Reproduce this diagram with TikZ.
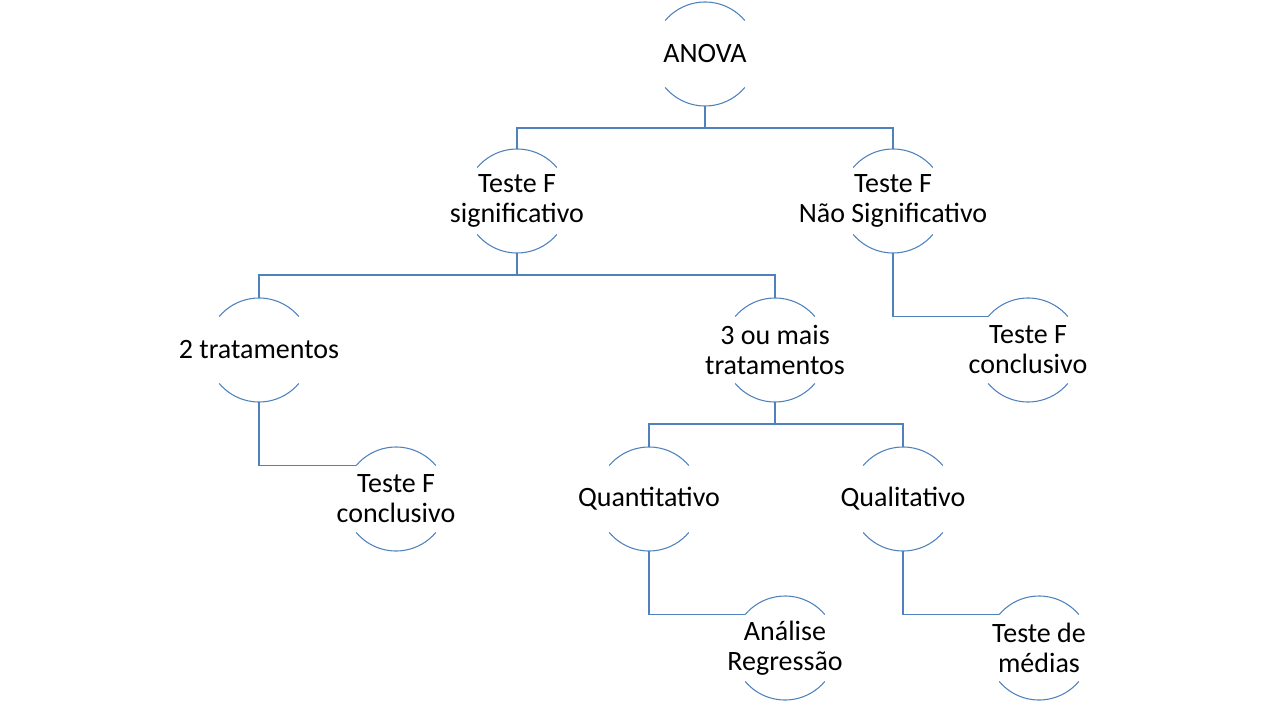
\documentclass[tikz,border=0pt]{standalone}
\usepackage{fontspec}
\setmainfont{Carlito}
\definecolor{azul}{RGB}{79,129,189}
\tikzset{
  bolha/.style={circle, minimum size=78pt, inner sep=0pt, outer sep=0pt},
  texto/.style={align=center, font=\fontsize{21pt}{22.5pt}\selectfont, inner sep=0pt},
  linha/.style={draw=azul, line width=0.8pt},
}

\begin{document}
\begin{tikzpicture}[x=0.75pt, y=-0.75pt]
    \useasboundingbox (0,0) rectangle (1280,720);

    \node[bolha, label={[texto]center:ANOVA}]                              (anova)  at (705, 54) {};
    \node[bolha, label={[texto]center:{Teste F\\significativo}}]           (sig)    at (517,201) {};
    \node[bolha, label={[texto]center:{Teste F\\Não Significativo}}]       (nsig)   at (893,201) {};
    \node[bolha, label={[texto]center:2 tratamentos}]                      (trat2)  at (259,350) {};
    \node[bolha, label={[texto]center:{3 ou mais\\tratamentos}}]           (trat3)  at (775,350) {};
    \node[bolha, label={[texto]center:{Teste F\\conclusivo}}]              (conc2)  at (1028,350) {};
    \node[bolha, label={[texto]center:{Teste F\\conclusivo}}]              (conc1)  at (396,499) {};
    \node[bolha, label={[texto]center:Quantitativo}]                       (quant)  at (649,499) {};
    \node[bolha, label={[texto]center:Qualitativo}]                        (qual)   at (903,499) {};
    \node[bolha, label={[texto]center:{Análise\\Regressão}}]               (regr)   at (785,648) {};
    \node[bolha, label={[texto]center:{Teste de\\médias}}]                 (medias) at (1039,648) {};

    % arcos de cima e de baixo
    \foreach \n in {anova, sig, nsig, trat2, trat3, conc2, conc1, quant, qual, regr, medias}{
        \draw[linha] (\n.40) arc[start angle=40, end angle=140, radius=39pt];
        \draw[linha] (\n.220) arc[start angle=220, end angle=320, radius=39pt];
        };

    % ligacoes
    \foreach \a/\b in {anova/sig, anova/nsig, sig/trat2, sig/trat3, trat3/quant, trat3/qual}{
        \draw[linha] (\a.south) -- ++(0,22) -| (\b.north);
        };
    \foreach \a/\b in {nsig/conc2, trat2/conc1, quant/regr, qual/medias}{
        \draw[linha] (\a.south) |- (\b.140);
        };
\end{tikzpicture}
\end{document}
